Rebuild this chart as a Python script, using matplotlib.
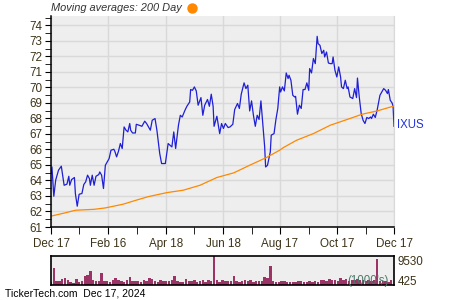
import matplotlib
matplotlib.use('Agg')
import matplotlib.pyplot as plt
from matplotlib.lines import Line2D
from matplotlib.ticker import MultipleLocator, FixedLocator
import pandas as pd

plt.rcParams['font.family'] = ['Liberation Sans', 'DejaVu Sans']

start = pd.Timestamp('2023-12-17')
end = pd.Timestamp('2024-12-17')

# price: days after Dec 17 2023, closing value
price_day = [0, 1, 3, 5, 8, 11, 14, 17, 19, 20, 22, 25, 26, 28, 30, 33, 35, 37, 39, 41,
             42, 44, 46, 48, 51, 52, 54, 56, 58, 60, 62, 64, 67, 68, 70, 72, 74, 76, 78, 80,
             82, 84, 85, 87, 90, 91, 94, 97, 100, 102, 104, 106, 108, 111, 113, 116, 118, 122,
             125, 127, 129, 131, 133, 136, 138, 140, 143, 145, 148, 149, 151, 153, 155, 157, 160, 162,
             164, 167, 169, 171, 173, 174, 177, 180, 182, 184, 186, 189, 191, 194, 196, 199, 201, 203,
             206, 208, 210, 212, 214, 216, 218, 220, 222, 224, 226, 228, 229, 231, 234, 235, 238, 240,
             242, 244, 245, 247, 249, 251, 253, 254, 256, 258, 260, 261, 263, 265, 267, 269, 271, 273,
             275, 276, 278, 280, 282, 284, 285, 287, 289, 291, 292, 294, 296, 298, 300, 301, 303, 305,
             307, 309, 310, 312, 314, 316, 317, 319, 322, 324, 326, 327, 329, 331, 333, 335, 337, 339,
             341, 342, 344, 346, 348, 350, 351, 353, 355, 357, 359, 360, 362, 364, 365, 366]
price_val = [64.45, 64.87, 62.98, 64.02, 64.66, 64.92, 63.69, 63.76, 64.27, 63.69, 64.06, 64.19, 63.16, 62.34, 63.11, 63.16, 63.74, 63.91, 64.34, 64.12,
             63.69, 64.34, 63.69, 64.27, 64.38, 64.55, 64.34, 63.48, 64.98, 65.19, 65.41, 65.95, 66.01, 65.90, 65.52, 65.88, 66.38, 66.06, 67.45, 67.24,
             67.13, 67.67, 67.24, 67.06, 67.06, 67.62, 67.56, 67.49, 67.82, 67.67, 67.45, 67.24, 67.88, 67.99, 67.24, 65.74, 65.09, 65.09,
             66.38, 66.27, 66.16, 67.13, 66.06, 67.56, 68.20, 68.09, 68.53, 68.78, 69.06, 69.86, 69.81, 70.03, 69.77, 68.85, 69.34, 68.20,
             68.85, 69.22, 68.78, 69.56, 68.78, 67.49, 68.14, 67.02, 67.67, 67.35, 67.67, 67.41, 67.45, 67.62, 68.57, 68.96, 68.64, 69.56,
             70.29, 69.92, 70.14, 68.48, 69.13, 68.20, 67.49, 68.20, 67.93, 69.13, 67.67, 66.16, 64.87, 64.98, 65.84, 66.92, 67.02, 67.93,
             68.64, 70.03, 69.70, 70.03, 69.77, 70.93, 70.57, 70.78, 70.46, 69.49, 69.38, 69.42, 68.27, 68.85, 68.64, 69.86, 69.86, 70.29,
             69.81, 71.21, 70.93, 71.86, 71.53, 73.29, 72.82, 72.71, 72.18, 72.39, 71.96, 72.28, 71.57, 71.53, 71.53, 71.96, 71.10, 70.67,
             71.32, 70.67, 70.03, 69.92, 70.46, 69.92, 70.03, 69.38, 69.28, 69.92, 69.34, 70.60, 69.34, 68.31, 67.88, 67.67, 68.06, 67.99,
             68.09, 67.99, 68.27, 68.06, 68.53, 69.17, 69.49, 69.70, 69.92, 69.81, 69.60, 69.86, 69.17, 68.99, 68.78, 67.49]

# 200 day moving average
ma_day = [0, 15, 26, 46, 58, 77, 91, 104, 124, 141, 159, 177, 195, 212, 230, 244,
          248, 262, 280, 298, 316, 332, 348, 366]
ma_val = [61.70, 61.91, 62.08, 62.14, 62.23, 62.47, 62.73, 62.96, 63.22, 63.37, 63.69, 64.19,
          64.49, 64.98, 65.48, 65.95, 66.12, 66.59, 67.02, 67.56, 67.93, 68.27, 68.48, 68.80]

# volume (1000's), one bar every third day
vol_day = list(range(0, 366, 3))
vol_val = [900, 5700, 1300, 1200,
           2000, 2200, 1500, 900, 800, 2000, 1100,
           1200, 3100, 3300, 4700, 1500, 1300, 1200, 3800, 1400,
           1300, 1000, 1600, 2200, 1500, 1300, 1100, 1800, 2600, 1400, 1200,
           1300, 1100, 1500, 1200, 2300, 2100, 1300, 1000, 1500, 1200, 1300,
           1200, 1500, 2800, 1300, 1100, 1000, 1900, 1400, 1200, 1600, 1000,
           1300, 1800, 1100, 1500, 1200, 9530, 1500, 1000, 1800, 1300, 1200,
           1200, 2900, 1400, 1100, 1300, 1500, 1200, 1600, 1000, 1400, 1300,
           1300, 2600, 2300, 6100, 1300, 1100, 1000, 1200, 1400, 1100, 1000,
           1100, 1000, 1200, 1400, 1000, 1100, 1300, 1100, 1200, 1000, 1500,
           1700, 1400, 2000, 1600, 1800, 1300, 2200, 1500, 1900, 1400, 1700,
           1600, 2000, 1500, 1800, 1400, 1700, 1300, 1500, 8700, 1400, 1200, 1300, 1100, 1500]

major_dates = ['2023-12-17', '2024-02-16', '2024-04-18', '2024-06-18',
               '2024-08-17', '2024-10-17', '2024-12-17']
major_labels = ['Dec 17', 'Feb 16', 'Apr 18', 'Jun 18', 'Aug 17', 'Oct 17', 'Dec 17']
minor_dates = ['2024-01-16', '2024-03-18', '2024-05-18', '2024-07-18',
               '2024-09-17', '2024-11-17']
vol_labels = ['9530', '425']

price_dates = start + pd.to_timedelta(price_day, unit='D')
ma_dates = start + pd.to_timedelta(ma_day, unit='D')
vol_dates = start + pd.to_timedelta(vol_day, unit='D')

txt_col = '#3d3319'
grid_col = '#d9d9d9'
bg_col = '#eeeeee'

fig = plt.figure(figsize=(4.5, 3), dpi=100)
ax = fig.add_axes([51/450, 73/300, 343/450, 211/300])
ax.set_facecolor(bg_col)
ax.set_axisbelow(True)

ax.plot(price_dates, price_val, color='#1f1fd6', lw=0.9)
ax.plot(ma_dates, ma_val, color='#ff8800', lw=0.9)

ax.set_xlim(start, end)
ax.set_ylim(61, 74.6)
ax.yaxis.set_major_locator(MultipleLocator(1))
ax.yaxis.set_minor_locator(MultipleLocator(0.5))
ax.xaxis.set_major_locator(FixedLocator([matplotlib.dates.date2num(pd.Timestamp(d)) for d in major_dates]))
ax.xaxis.set_minor_locator(FixedLocator([matplotlib.dates.date2num(pd.Timestamp(d)) for d in minor_dates]))
ax.set_xticklabels(major_labels)
ax.grid(True, which='major', color=grid_col, lw=1)
ax.tick_params(which='both', direction='out', color='black', labelcolor=txt_col, labelsize=8.4)
ax.tick_params(axis='x', which='both', length=5, pad=3)
ax.tick_params(axis='y', which='both', length=4, pad=2)
ax.spines['top'].set_visible(False)
ax.spines['right'].set_color(grid_col)
for s in ['left', 'bottom']:
    ax.spines[s].set_color('black')
    ax.spines[s].set_linewidth(1.1)

ax.text(1.01, 0.485, 'IXUS', transform=ax.transAxes, color='#2233dd', fontsize=8.3, va='center', ha='left')

fig.text(51/450, 1 - 8/300, 'Moving averages: 200 Day', fontsize=7.9, style='italic',
         color='#333333', va='center', ha='left')
fig.add_artist(Line2D([192/450], [1 - 7.5/300], marker='o', ms=6.5, color='#ff8800',
                      transform=fig.transFigure))

vax = fig.add_axes([51/450, 15/300, 343/450, 29/300])
vax.set_facecolor(bg_col)
vax.bar(vol_dates, vol_val, width=2.6, color='#9c3366', align='center')
vax.set_xlim(start, end)
vax.set_ylim(0, 9530)
vax.set_xticks([])
vax.set_yticks([])
for s in vax.spines.values():
    s.set_color('black')
    s.set_linewidth(1.2)
vax.text(1.01, 0.8, vol_labels[0], transform=vax.transAxes, fontsize=8.4, color=txt_col, va='center')
vax.text(1.01, 0.12, vol_labels[1], transform=vax.transAxes, fontsize=8.4, color=txt_col, va='center')
vax.text(0.985, 0.15, "(1000's)", transform=vax.transAxes, fontsize=8.3, color='#4a7a68',
         va='center', ha='right')

fig.text(5/450, 1 - 294/300, 'TickerTech.com  Dec 17, 2024', fontsize=7.5, color='black',
         va='center', ha='left')

fig.savefig('out.png', dpi=100)
